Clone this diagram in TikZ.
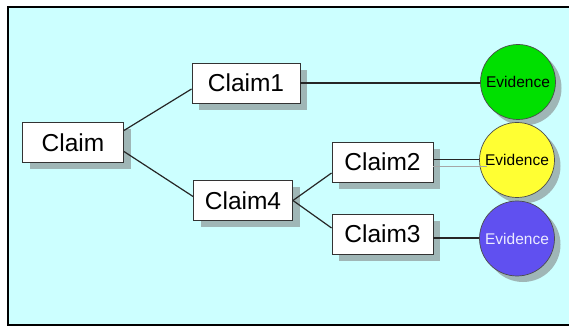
\documentclass[tikz,border=0pt]{standalone}
\usepackage{fontspec}
\setmainfont{Liberation Sans}
\usetikzlibrary{shadows}
\definecolor{panel}{HTML}{CCFFFF}
\definecolor{shade}{HTML}{9FB6B6}
\definecolor{evgreen}{HTML}{00E000}
\definecolor{evyellow}{HTML}{FFFF33}
\definecolor{evblue}{HTML}{6050F0}
\tikzset{
  claimbox/.style={draw=black!80, line width=0.9pt, fill=white,
    minimum width=101pt, minimum height=40pt, inner sep=0pt,
    font=\fontsize{24.5}{24.5}\selectfont,
    drop shadow={shadow xshift=7pt, shadow yshift=-7pt, fill=shade, opacity=1}},
  evidence/.style={circle, draw=black!70, line width=0.7pt,
    minimum size=75pt, inner sep=0pt,
    font=\fontsize{15.5}{15.5}\selectfont,
    drop shadow={shadow xshift=6pt, shadow yshift=-6pt, fill=shade, opacity=1}},
  link/.style={draw=black!85, line width=1.2pt}
}
\begin{document}
\begin{tikzpicture}[x=1pt, y=-1pt]
  \useasboundingbox (0,0) rectangle (569,328);
  % panel with frame
  \fill[shade] (11,10) rectangle (575,328);
  \filldraw[fill=panel, draw=black, line width=1.5pt] (8,7) rectangle (575,325);

  % claims
  \node[claimbox] (c0) at (73,142.5) {Claim};
  \node[claimbox, minimum width=108pt] (c1) at (246,83) {Claim1};
  \node[claimbox, minimum width=99pt] (c4) at (243,200.5) {Claim4};
  \node[claimbox] (c2) at (382.5,162) {Claim2};
  \node[claimbox] (c3) at (382.5,234) {Claim3};

  % evidence
  \node[evidence, fill=evgreen] (e1) at (518,82) {Evidence};
  \node[evidence, fill=evyellow] (e2) at (517,160) {Evidence};
  \node[evidence, fill=evblue, text=white!92!blue] (e3) at (517,238.5) {Evidence};

  % connectors
  \draw[link] ([yshift=12pt]c0.east) -- ([yshift=-6pt]c1.west);
  \draw[link] ([yshift=-9pt]c0.east) -- ([yshift=4pt]c4.west);
  \draw[link] (c4.east) -- ([yshift=-11pt]c2.west);
  \draw[link] (c4.east) -- ([yshift=6pt]c3.west);
  \draw[link] (c1.east) -- (c1.east -| e1.west);
  \coordinate (c2out) at ([yshift=2.5pt]c2.east);
  \draw[link] (c2out) -- (c2out -| e2.west);
  \coordinate (c3out) at ([yshift=-4pt]c3.east);
  \draw[link] (c3out) -- (c3out -| e3.west);
  \coordinate (gs) at (487,166.7);
  \draw[black!35, line width=0.8pt] ([yshift=-4.7pt]c2.east) -- (gs);
\end{tikzpicture}
\end{document}
